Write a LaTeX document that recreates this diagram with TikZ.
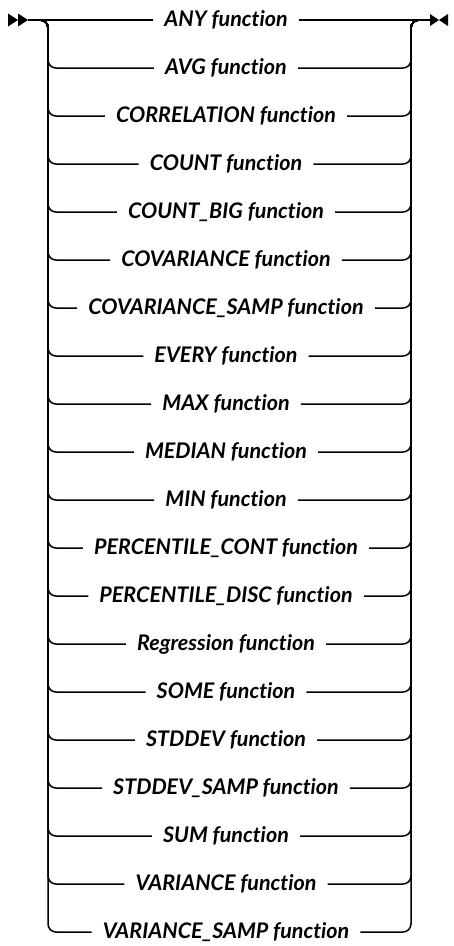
\documentclass[tikz,border=0pt]{standalone}
\usepackage{fontspec}
\setmainfont{Lato}[Ligatures=NoCommon]
\usetikzlibrary{calc}

\begin{document}
\begin{tikzpicture}[
    x=1pt, y=-1pt,
    fn/.style={font=\fontsize{21.5}{24}\selectfont\bfseries\itshape, inner xsep=11pt, inner ysep=2pt},
    rail/.style={line width=1.5pt, rounded corners=8pt}
]
\useasboundingbox (0,0) rectangle (453,946);
\coordinate (in) at (28,20);
\coordinate (out) at (430,20);
\coordinate (lft) at (48,20);
\coordinate (rgt) at (411,20);
% start and end marks
\fill (8,13.5) -- (18,20) -- (8,26.5) -- cycle;
\fill (18,13.5) -- (28,20) -- (18,26.5) -- cycle;
\fill (430,14) -- (439,20) -- (430,26) -- cycle;
\fill (448,14) -- (439,20) -- (448,26) -- cycle;
% the choices
\foreach \name [count=\i] in {ANY, AVG, CORRELATION, COUNT, COUNT\_BIG, COVARIANCE, COVARIANCE\_SAMP, EVERY, MAX, MEDIAN, MIN, PERCENTILE\_CONT, PERCENTILE\_DISC, Regression, SOME, STDDEV, STDDEV\_SAMP, SUM, VARIANCE, VARIANCE\_SAMP} {
  \node[fn] (f\i) at (226, 20+48*\i-48) {\name{} function};
}
\draw[rail] (in) -- (f1.west);
\draw[rail] (f1.east) -- (out);
\foreach \i in {2,...,20} {
  \draw[rail] (in) -| (lft |- f\i.west) -- (f\i.west);
  \draw[rail] (f\i.east) -| (rgt) -- (out);
}
\end{tikzpicture}
\end{document}
